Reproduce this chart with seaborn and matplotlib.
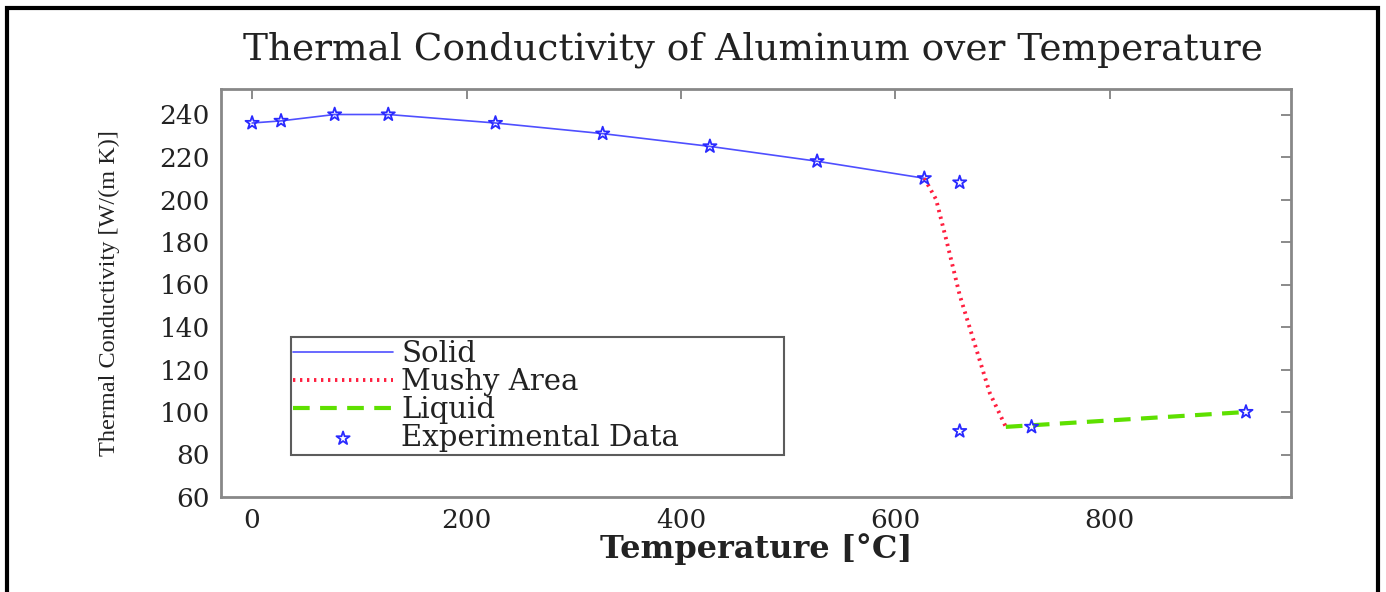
import matplotlib
matplotlib.use("Agg")
import matplotlib.pyplot as plt
import seaborn as sns
import pandas as pd
from matplotlib.patches import Rectangle

# ---- data ----
solid_T = [0, 27, 77, 127, 227, 327, 427, 527, 627]
solid_k = [236, 237, 240, 240, 236, 231, 225, 218, 210]
mushy_T = [627, 638, 648, 660, 674, 688, 703]
mushy_k = [210, 200, 180, 155, 132, 109, 93]
liquid_T = [703, 927]
liquid_k = [93, 100]
exp_T = [0, 27, 77, 127, 227, 327, 427, 527, 627, 660, 660, 727, 927]
exp_k = [236, 237, 240, 240, 236, 231, 225, 218, 210, 208, 91, 93, 100]
x_ticks = [0, 200, 400, 600, 800]
y_ticks = [60, 80, 100, 120, 140, 160, 180, 200, 220, 240]

sns.set_style("white")
plt.rcParams['font.family'] = ['DejaVu Serif']

fig = plt.figure(figsize=(13.86, 5.92), dpi=100)
ax = fig.add_axes([221/1386, 1-497/592, (1291-221)/1386, (497-89)/592])

solid = pd.DataFrame({"T": solid_T, "k": solid_k})
mushy = pd.DataFrame({"T": mushy_T, "k": mushy_k})
liquid = pd.DataFrame({"T": liquid_T, "k": liquid_k})
exp = pd.DataFrame({"T": exp_T, "k": exp_k})

sns.lineplot(data=solid, x="T", y="k", ax=ax, color="#4f4fff", linewidth=1.2,
             label="Solid", sort=False)
sns.lineplot(data=mushy, x="T", y="k", ax=ax, color="#ff1f3f", linewidth=2.8,
             linestyle=(0, (0.6, 1.2)), label="Mushy Area", sort=False)
sns.lineplot(data=liquid, x="T", y="k", ax=ax, color="#5ee000", linewidth=3.0,
             linestyle=(0, (4, 2.5)), label="Liquid", sort=False)
sns.scatterplot(data=exp, x="T", y="k", ax=ax, marker="*", s=100,
                facecolors="none", edgecolors="#2a2aff", linewidth=1.3,
                label="Experimental Data", zorder=5)

ax.set_xlim(-29, 969)
ax.set_ylim(60, 252)
ax.set_xticks(x_ticks)
ax.set_yticks(y_ticks)
ax.tick_params(direction="in", length=7, width=1.2, color="#777777",
               top=True, right=True, labelsize=19, pad=8, labelcolor="#222222")
for s in ax.spines.values():
    s.set_color("#888888")
    s.set_linewidth(2)

ax.set_xlabel("Temperature [°C]", fontsize=23, fontweight="bold", color="#222222", labelpad=0)
ax.set_ylabel("Thermal Conductivity [W/(m K)]", fontsize=17.5, family="Liberation Serif",
              color="#222222", labelpad=28)
fig.text(753/1386, 1-50/592, "Thermal Conductivity of Aluminum over Temperature",
         ha="center", va="center", fontsize=27, color="#222222")

leg = ax.legend(loc="lower left", bbox_to_anchor=(0.065, 0.103, 0.461, 0.29),
                mode="expand", fontsize=21, frameon=True, fancybox=False,
                handlelength=3.4, handletextpad=0.3, borderpad=0.1, labelspacing=0.0,
                borderaxespad=0)
leg.get_frame().set_edgecolor("#333333")
leg.get_frame().set_linewidth(1.5)
for t in leg.get_texts():
    t.set_color("#222222")

fig.patches.append(Rectangle((7/1386, -0.1), (1378-7)/1386, 1.1 - 8/592, transform=fig.transFigure,
                             fill=False, edgecolor="black", linewidth=3))

fig.savefig("out.png", dpi=100)
